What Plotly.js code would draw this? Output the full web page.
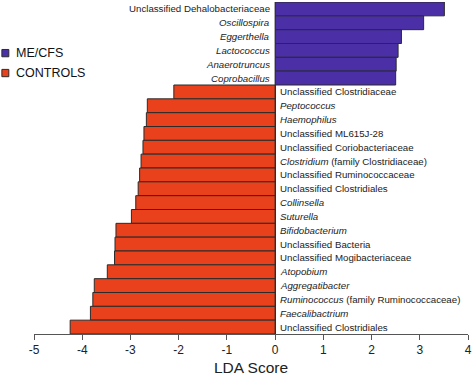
<!DOCTYPE html>
<html>
<head>
<meta charset="utf-8">
<script src="https://cdn.plot.ly/plotly-3.0.1.min.js"></script>
<style>html,body{margin:0;padding:0;background:#fff;}#chart{width:472px;height:376px;}</style>
</head>
<body>
<div id="chart"></div>
<script>
// ---- data ----
const seriesNames = ["ME/CFS", "CONTROLS"];
const meLabels = [
  "Unclassified Dehalobacteriaceae",
  "<i>Oscillospira</i>",
  "<i>Eggerthella</i>",
  "<i>Lactococcus</i>",
  "<i>Anaerotruncus</i>",
  "<i>Coprobacillus</i>"
];
const meValues = [3.51, 3.08, 2.62, 2.55, 2.51, 2.50];
const ctrlLabels = [
  "Unclassified Clostridiaceae",
  "<i>Peptococcus</i>",
  "<i>Haemophilus</i>",
  "Unclassified ML615J-28",
  "Unclassified Coriobacteriaceae",
  "<i>Clostridium</i> (family Clostridiaceae)",
  "Unclassified Ruminococcaceae",
  "Unclassified Clostridiales",
  "<i>Collinsella</i>",
  "<i>Suturella</i>",
  "<i>Bifidobacterium</i>",
  "Unclassified Bacteria",
  "Unclassified Mogibacteriaceae",
  "<i>Atopobium</i>",
  "<i>Aggregatibacter</i>",
  "<i>Ruminococcus</i> (family Ruminococcaceae)",
  "<i>Faecalibactrium</i>",
  "Unclassified Clostridiales"
];
const ctrlValues = [-2.10, -2.65, -2.67, -2.72, -2.74, -2.78, -2.81, -2.84, -2.89, -2.98,
  -3.30, -3.32, -3.33, -3.48, -3.75, -3.78, -3.83, -4.25];
const xTicks = [-5, -4, -3, -2, -1, 0, 1, 2, 3, 4];

// ---- styles ----
const colors = ["#4A2FA6", "#E8411B"];
const edge = "#2b2b2b";
const font = "Liberation Sans, Arial, sans-serif";
const labelSize = 9.7;

const meY = meValues.map((v, i) => i);
const ctrlY = ctrlValues.map((v, i) => i + meValues.length);
const n = meValues.length + ctrlValues.length;

const traces = [
  {type: "bar", orientation: "h", name: seriesNames[0], x: meValues, y: meY, width: 1,
   marker: {color: colors[0], line: {color: edge, width: 1}}, hoverinfo: "x", showlegend: false},
  {type: "bar", orientation: "h", name: seriesNames[1], x: ctrlValues, y: ctrlY, width: 1,
   marker: {color: colors[1], line: {color: edge, width: 1}}, hoverinfo: "x", showlegend: false}
];

const annotations = [];
meLabels.forEach((t, i) => annotations.push({x: 0, y: meY[i], xref: "x", yref: "y", text: t,
  showarrow: false, xanchor: "right", xshift: -3, font: {family: font, size: labelSize, color: "#222"}}));
ctrlLabels.forEach((t, i) => annotations.push({x: 0, y: ctrlY[i], xref: "x", yref: "y", text: t,
  showarrow: false, xanchor: "left", xshift: 3, font: {family: font, size: labelSize, color: "#222"}}));

// custom legend
const shapes = [];
seriesNames.forEach((name, k) => {
  const yc = 0.846 - k * 0.06;
  annotations.push({x: -0.045, y: yc, xref: "paper", yref: "paper", text: name, showarrow: false,
    xanchor: "left", yanchor: "middle", font: {family: font, size: 12.5, color: "#111"}});
  shapes.push({type: "rect", xref: "paper", yref: "paper", x0: -0.074, x1: -0.058,
    y0: yc - 0.011, y1: yc + 0.011, fillcolor: colors[k], line: {color: edge, width: 1}});
});

const layout = {
  width: 472, height: 376,
  margin: {l: 34, r: 4, t: 2, b: 42},
  paper_bgcolor: "#fff", plot_bgcolor: "#fff",
  barmode: "overlay",
  showlegend: false,
  font: {family: font, color: "#222"},
  xaxis: {range: [-5, 4], tickvals: xTicks, ticktext: xTicks.map(String), ticks: "outside", ticklen: 5,
    tickcolor: "#555", showline: true, linecolor: "#555", linewidth: 1, showgrid: false,
    zeroline: true, zerolinecolor: edge, zerolinewidth: 1,
    tickfont: {family: font, size: 12, color: "#222"},
    title: {text: "LDA Score", font: {family: font, size: 15.5, color: "#222"}, standoff: 9}},
  yaxis: {range: [n - 0.5, -0.5], showticklabels: false, showgrid: false, zeroline: false,
    showline: false, ticks: ""},
  annotations: annotations,
  shapes: shapes
};

Plotly.newPlot("chart", traces, layout, {displayModeBar: false, staticPlot: true});
</script>
</body>
</html>
